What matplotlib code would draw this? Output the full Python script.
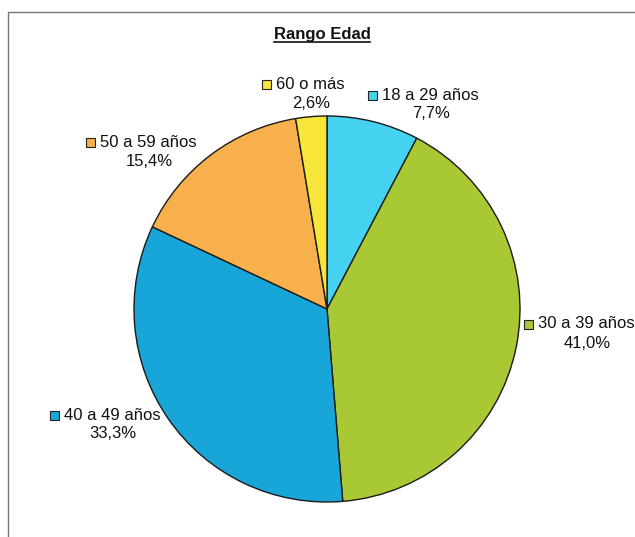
import matplotlib
matplotlib.use("Agg")
import matplotlib.pyplot as plt
from matplotlib.patches import Rectangle
from matplotlib.lines import Line2D

# data
categories = ['18 a 29 años', '30 a 39 años', '40 a 49 años', '50 a 59 años', '60 o más']
values = [7.7, 41.0, 33.3, 15.4, 2.6]
pct_labels = ['7,7%', '41,0%', '33,3%', '15,4%', '2,6%']
colors = ['#45D2F0', '#A8C834', '#18A6D9', '#F8B04C', '#F6E63A']

# label centres in pixels (x, y of first line)
label_pos = [(430, 95), (586, 324), (112, 415), (148, 142), (310, 84)]

W, H = 635, 537
fig = plt.figure(figsize=(W / 100, H / 100), dpi=100)
plt.rcParams['font.family'] = ['Liberation Sans', 'DejaVu Sans']


def px(x, y):
    return x / W, 1 - y / H


# frame around the chart
fig.patches.append(Rectangle(px(8, 540), (W + 10) / W, (540 - 12) / H,
                             transform=fig.transFigure, fill=False,
                             edgecolor='#777777', linewidth=1.0))

cx, cy, r = 327, 309, 193
ax = fig.add_axes([(cx - r) / W, (H - cy - r) / H, 2 * r / W, 2 * r / H])
ax.pie(values, colors=colors, startangle=90, counterclock=False,
       wedgeprops=dict(edgecolor='#1a1a1a', linewidth=1.0))
ax.set_xlim(-1, 1)
ax.set_ylim(-1, 1)
ax.axis('off')

# title, underlined
t = fig.text(*px(322, 35), 'Rango Edad', ha='center', va='center',
             fontsize=12, fontweight='bold', color='#111111')

fig.canvas.draw()
rend = fig.canvas.get_renderer()
bb = t.get_window_extent(rend).transformed(fig.transFigure.inverted())
fig.lines.append(Line2D([bb.x0, bb.x1], [bb.y0 + 0.001, bb.y0 + 0.001],
                        transform=fig.transFigure, color='#111111', linewidth=1.2))

for name, pct, col, (lx, ly) in zip(categories, pct_labels, colors, label_pos):
    t1 = fig.text(*px(lx, ly), name, ha='center', va='center',
                  fontsize=12, color='#111111')
    fig.text(*px(lx + 1, ly + 19), pct, ha='center', va='center',
             fontsize=12, color='#111111')
    b = t1.get_window_extent(rend)
    sx = b.x0 - 14
    sy = (b.y0 + b.y1) / 2 - 5
    fig.patches.append(Rectangle((sx / W, sy / H), 9 / W, 9 / H,
                                 transform=fig.transFigure, facecolor=col,
                                 edgecolor='#222222', linewidth=0.8))

fig.savefig('out.png', dpi=100)
